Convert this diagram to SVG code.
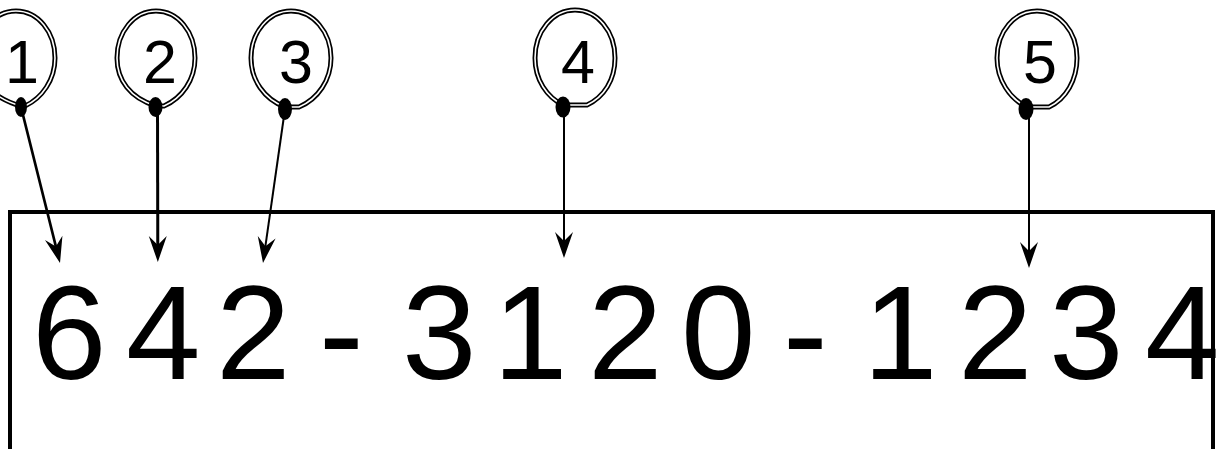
<svg xmlns="http://www.w3.org/2000/svg" width="1217" height="449" viewBox="0 0 1217 449">
<style>
.bo{fill:none;stroke:#000;stroke-width:5;stroke-linejoin:round}
.bi{fill:none;stroke:#fff;stroke-width:1.6;stroke-linejoin:round}
.dot{fill:#000}
.lbl{font-family:"Liberation Sans",Arial,sans-serif;font-size:61px;fill:#000;text-anchor:middle}
.num{font-family:"Liberation Sans",Arial,sans-serif;font-size:134px;fill:#000}
.c{fill:none;stroke:#000;marker-end:url(#ah)}
</style>
<defs>
<marker id="ah" markerUnits="userSpaceOnUse" viewBox="-16 -10 30 20" markerWidth="30" markerHeight="20" refX="0" refY="0" orient="auto">
<path d="M12,0 L-14,-9 L-5,0 L-14,9 Z" fill="#000"/>
</marker>
</defs>
<rect width="1217" height="449" fill="#fff"/>
<g id="frame">
<path d="M10,449 V212 H1213 V449" fill="none" stroke="#000" stroke-width="4"/>
</g>
<g id="number">
<text class="num" x="32 126 216 319 402 493 588 681 783 863 958 1049 1145" y="379">642-3120-1234</text>
</g>
<g id="balloon1">
<path class="bo" d="M21,106 L25,106 C42,98 55,80 55,58 C55,32 38,11 16,11 C-6,11 -23,32 -23,58 C-23,80 -8,98 21,106 Z"/>
<path class="bi" d="M21,106 L25,106 C42,98 55,80 55,58 C55,32 38,11 16,11 C-6,11 -23,32 -23,58 C-23,80 -8,98 21,106 Z"/>
<text class="lbl" x="22" y="83">1</text>
<ellipse class="dot" cx="21" cy="107" rx="6" ry="10"/>
</g>
<g id="balloon2">
<path class="bo" d="M156,106 L164,106 C182,98 195,80 195,58 C195,32 178,11 156,11 C134,11 117,32 117,58 C117,80 130,98 156,106 Z"/>
<path class="bi" d="M156,106 L164,106 C182,98 195,80 195,58 C195,32 178,11 156,11 C134,11 117,32 117,58 C117,80 130,98 156,106 Z"/>
<text class="lbl" x="160" y="83">2</text>
<ellipse class="dot" cx="155.5" cy="107" rx="7" ry="10"/>
</g>
<g id="balloon3">
<path class="bo" d="M285,107 L299,107 C318,99 331,80 331,58 C331,32 313,11 291,11 C269,11 251,32 251,58 C251,80 264,99 285,107 Z"/>
<path class="bi" d="M285,107 L299,107 C318,99 331,80 331,58 C331,32 313,11 291,11 C269,11 251,32 251,58 C251,80 264,99 285,107 Z"/>
<text class="lbl" x="296" y="83">3</text>
<ellipse class="dot" cx="285" cy="109" rx="7" ry="11"/>
</g>
<g id="balloon4">
<path class="bo" d="M563,105 L587,105 C604,97 615,80 615,58 C615,31 597,10 575,10 C553,10 535,31 535,58 C535,80 547,97 563,105 Z"/>
<path class="bi" d="M563,105 L587,105 C604,97 615,80 615,58 C615,31 597,10 575,10 C553,10 535,31 535,58 C535,80 547,97 563,105 Z"/>
<text class="lbl" x="578" y="83">4</text>
<ellipse class="dot" cx="563" cy="107" rx="7.5" ry="10.5"/>
</g>
<g id="balloon5">
<path class="bo" d="M1027,107 L1049,107 C1066,99 1077,80 1077,58 C1077,31 1059,11 1037,11 C1015,11 997,31 997,58 C997,80 1010,99 1027,107 Z"/>
<path class="bi" d="M1027,107 L1049,107 C1066,99 1077,80 1077,58 C1077,31 1059,11 1037,11 C1015,11 997,31 997,58 C997,80 1010,99 1027,107 Z"/>
<text class="lbl" x="1040" y="83">5</text>
<ellipse class="dot" cx="1026" cy="109" rx="7.5" ry="11"/>
</g>
<g id="connectors">
<line class="c" x1="21" y1="107" x2="57.1" y2="251.4" stroke-width="2.7"/>
<line class="c" x1="157.5" y1="107" x2="157.8" y2="250" stroke-width="3"/>
<line class="c" x1="285" y1="109" x2="264.7" y2="251.1" stroke-width="2"/>
<line class="c" x1="564" y1="107" x2="564" y2="246" stroke-width="2"/>
<line class="c" x1="1029" y1="109" x2="1029" y2="256" stroke-width="2"/>
</g>
</svg>
